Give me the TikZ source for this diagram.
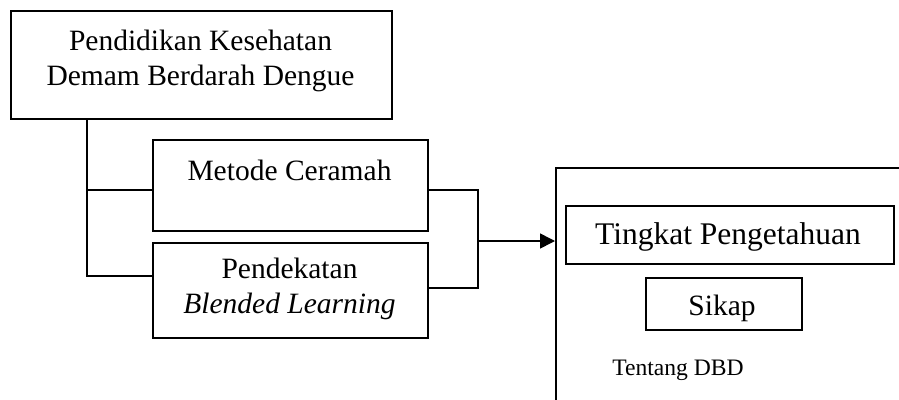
\documentclass[tikz,border=0pt]{standalone}
\usepackage{fontspec}
\setmainfont{Liberation Serif}
\usetikzlibrary{arrows.meta}
\begin{document}
\begin{tikzpicture}[x=1pt,y=1pt,
  box/.style={draw=black, line width=1.6pt, rectangle, inner sep=0pt, anchor=north west},
  txt/.style={inner sep=0pt, anchor=base, font=\fontsize{29.5}{34}\selectfont},
  bigtxt/.style={inner sep=0pt, anchor=base, font=\fontsize{31.5}{36}\selectfont},
  smalltxt/.style={inner sep=0pt, anchor=base, font=\fontsize{23.6}{28}\selectfont},
  conn/.style={line width=1.6pt},
  arr/.style={line width=1.6pt, -{Triangle[length=15pt,width=15pt]}}]
\useasboundingbox (0,0) rectangle (899,-399);
\clip (0,0) rectangle (899,-399);
% boxes
\node[box, minimum width=381, minimum height=108] (top) at (10,-10) {};
\node[txt] (t1) at (200.5,-50) {Pendidikan Kesehatan};
\node[txt] (t2) at (200.5,-85) {Demam Berdarah Dengue};
\node[box, minimum width=275, minimum height=91] (met) at (152,-139) {};
\node[txt] (mtxt) at (289.5,-180) {Metode Ceramah};
\node[box, minimum width=275, minimum height=95] (pen) at (152,-242) {};
\node[txt] (p1) at (289.5,-278) {Pendekatan};
\node[txt] (p2) at (289.5,-313) {\itshape Blended Learning};
\node[box, minimum width=420, minimum height=300] (res) at (555,-167) {};
\node[box, minimum width=328, minimum height=58] (tp) at (565,-205) {};
\node[bigtxt] (tptxt) at (728,-244) {Tingkat Pengetahuan};
\node[box, minimum width=156, minimum height=52] (sk) at (645,-277) {};
\node[txt] (sktxt) at (722,-315) {Sikap};
\node[smalltxt] (dbd) at (678,-375) {Tentang DBD};
% connectors
\coordinate (trunk) at (87,-190);
\coordinate (trunkb) at (87,-276);
\coordinate (rj) at (478,-190);
\coordinate (rjb) at (478,-288);
\coordinate (mid) at (478,-241);
\draw[conn] (top.south -| trunk) -- (trunkb) -- (trunkb -| pen.west);
\draw[conn] (trunk) -- (trunk -| met.west);
\draw[conn] (rj -| met.east) -- (rj) -- (rjb) -- (rjb -| pen.east);
\draw[arr] (mid) -- (mid -| res.west);
\end{tikzpicture}
\end{document}
